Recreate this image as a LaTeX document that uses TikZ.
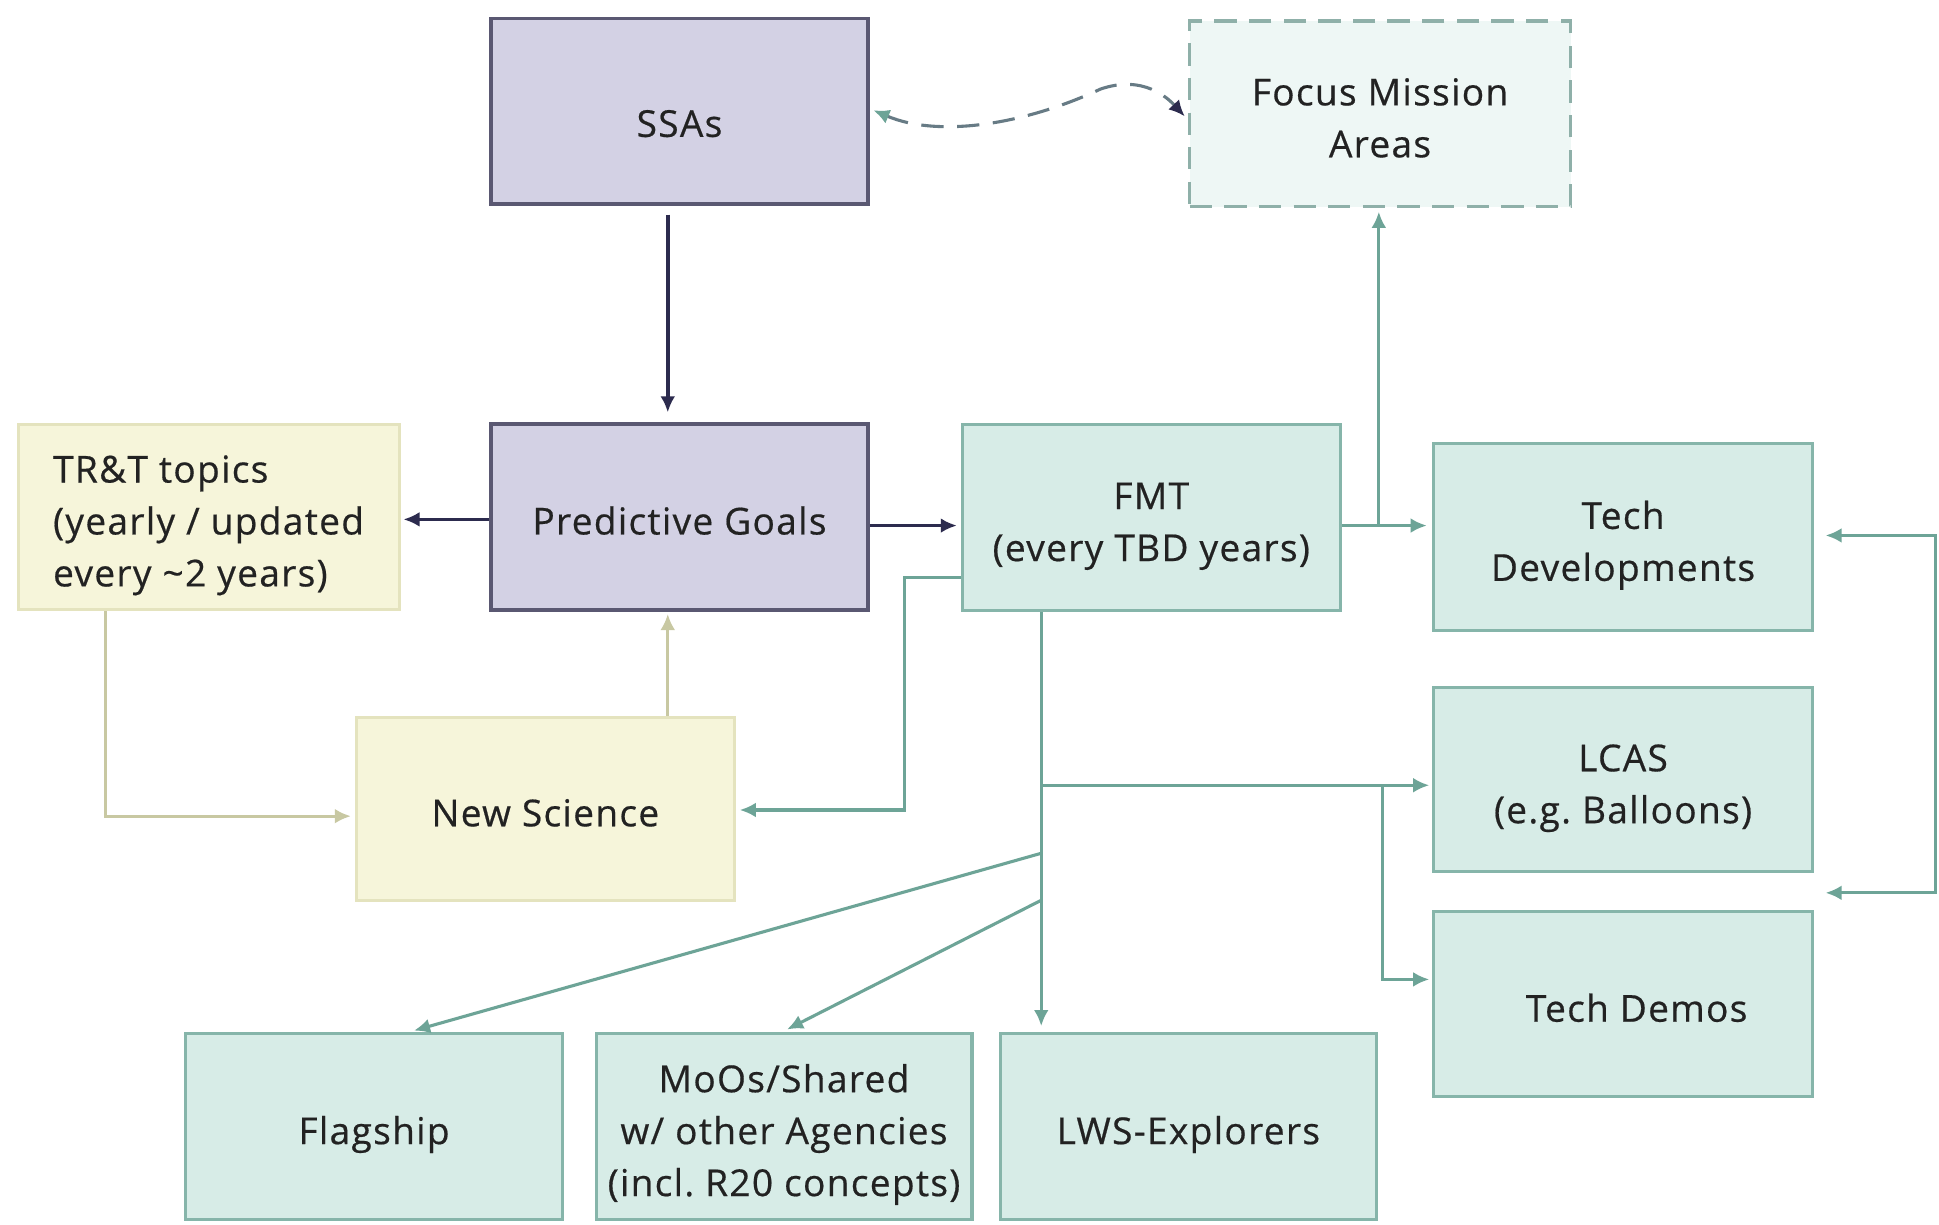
\documentclass[tikz,border=0pt]{standalone}
\usepackage{fontspec}
\setmainfont{Open Sans}[LetterSpace=3.5,FakeBold=0.5]
\usetikzlibrary{arrows.meta,calc}
\frenchspacing
\definecolor{purplefill}{HTML}{D3D1E4}
\definecolor{purpleline}{HTML}{5A5872}
\definecolor{darkarrow}{HTML}{2C2B4E}
\definecolor{tealfill}{HTML}{D7ECE7}
\definecolor{tealline}{HTML}{86B5AA}
\definecolor{tealarrow}{HTML}{6DA497}
\definecolor{fmafill}{HTML}{EEF7F5}
\definecolor{fmaline}{HTML}{8FB0A9}
\definecolor{yelfill}{HTML}{F6F5DA}
\definecolor{yelline}{HTML}{E4E3BE}
\definecolor{yelarrow}{HTML}{C8C8A2}
\definecolor{txt}{HTML}{222222}
\newcommand{\tstr}{\rule{0pt}{38.4pt}}
\newcommand{\bstr}{\rule[-10pt]{0pt}{10pt}}
\begin{document}
\begin{tikzpicture}[x=1pt,y=-1pt,
  box/.style={draw, line width=2.5pt, inner sep=0pt, align=center, text=txt,
    font=\fontsize{30}{42}\selectfont\frenchspacing, minimum width=305pt, minimum height=150pt},
  purplebox/.style={box, fill=purplefill, draw=purpleline, line width=3pt},
  tealbox/.style={box, fill=tealfill, draw=tealline},
  yelbox/.style={box, fill=yelfill, draw=yelline},
  fmabox/.style={box, fill=fmafill, draw=fmaline, dashed, dash pattern=on 18pt off 10pt},
  darr/.style={draw=darkarrow, line width=3pt, -{Latex[length=13pt,width=12pt]}},
  tarr/.style={draw=tealarrow, line width=2.5pt, -{Latex[length=13pt,width=12pt]}},
  yarr/.style={draw=yelarrow, line width=2.5pt, -{Latex[length=13pt,width=12pt]}},
]
\useasboundingbox[fill=white] (0,0) rectangle (1568,990);

% nodes
\node[purplebox] (ssa) at (549.5,90) {\rule{0pt}{51.4pt}SSAs\bstr};
\node[fmabox, minimum width=308pt] (fma) at (1116,92) {\tstr Focus Mission\\Areas\bstr};
\node[purplebox] (pg) at (549.5,418) {\tstr Predictive Goals\bstr};
\node[yelbox, minimum width=308pt] (trt) at (169,418) {};
\node[anchor=west, align=left, text=txt, font=\fontsize{30}{42}\selectfont, inner sep=0pt]
  (trttext) at ($(trt.west)+(29,0)$) {\tstr TR\&T topics\\(yearly / updated\\every \textasciitilde2 years)\bstr};
\node[yelbox, minimum width=306pt, minimum height=148pt] (ns) at (441,654) {\tstr New Science\bstr};
\node[tealbox, minimum width=306pt, minimum height=151pt] (fmt) at (931,418.5) {\tstr FMT\\(every TBD years)\bstr};
\node[tealbox, minimum width=307pt, minimum height=151pt] (td) at (1312.5,434.5) {\tstr Tech\\Developments\bstr};
\node[tealbox, minimum width=307pt, minimum height=149pt] (lcas) at (1312.5,630.5) {\tstr LCAS\\(e.g.\ Balloons)\bstr};
\node[tealbox, minimum width=307pt] (demos) at (1312.5,812) {\tstr\hspace*{22pt}Tech Demos\bstr};
\node[tealbox] (flag) at (302.5,911) {\tstr Flagship\bstr};
\node[tealbox, minimum width=304pt] (moo) at (634,911) {\tstr MoOs/Shared\\w/ other Agencies\\(incl.\ R20 concepts)\bstr};
\node[tealbox, minimum width=304pt] (lws) at (961,911) {\tstr LWS-Explorers\bstr};

% junctions
\coordinate (j1) at (1115,425);
\coordinate (j2) at (842,635);
\coordinate (j3) at (1118,635);
\coordinate (j4) at (842,690);
\coordinate (j5) at (842,728);
\coordinate (rb) at (1565,433);

% dark arrows
\draw[darr, shorten <=7pt, shorten >=8pt] (ssa.south -| 540,0) -- (pg.north -| 540,0);
\draw[darr, shorten >=2pt] (pg.west |- 0,420) -- (trt.east |- 0,420);
\draw[darr, shorten >=3pt] (pg.east |- 0,425) -- (fmt.west |- 0,425);

% yellow arrows
\draw[yarr, shorten >=2pt] (ns.north -| 540,0) -- (pg.south -| 540,0);
\draw[yarr, shorten >=3pt] (trt.south -| 85,0) |- (ns.west |- 0,660);

% teal arrows
\draw[tarr, shorten >=3pt] (fmt.west |- 0,467) -- ++(-45,0) |- (ns.east |- 0,655);
\draw[tarr, shorten >=4pt] (fmt.east |- 0,425) -- (td.west |- 0,425);
\draw[tarr, shorten >=3pt] (j1) -- (fma.south -| j1);
\draw[tarr, shorten >=5pt] (fmt.south -| 842,0) -- (lws.north -| 842,0);
\draw[tarr, shorten >=2pt] (j2) -- (lcas.west |- j2);
\draw[tarr, shorten >=2pt] (j3) |- (demos.west |- 0,792);
\draw[tarr, shorten >=5pt] (j4) -- (flag.north -| 330,0);
\draw[tarr, shorten >=5pt] (j5) -- (moo.north -| 632,0);
\draw[tarr, {Latex[length=13pt,width=12pt]}-{Latex[length=13pt,width=12pt]}, shorten <=9pt, shorten >=9pt]
  (td.east |- rb) -- (rb) |- (demos.east |- 0,722);

% dashed curve between SSAs and Focus Mission Areas
\draw[draw=fmaline!60!darkarrow, line width=2.5pt, dash pattern=on 18pt off 11pt,
  {Latex[length=13pt,width=12pt,color=tealarrow]}-{Latex[length=13pt,width=12pt,color=darkarrow]},
  shorten <=3pt, shorten >=4pt]
  (ssa.east |- 0,88) .. controls (760,112) and (830,100) .. (890,72)
  .. controls (925,60) and (945,80) .. (fma.west |- 0,97);
\end{tikzpicture}
\end{document}
